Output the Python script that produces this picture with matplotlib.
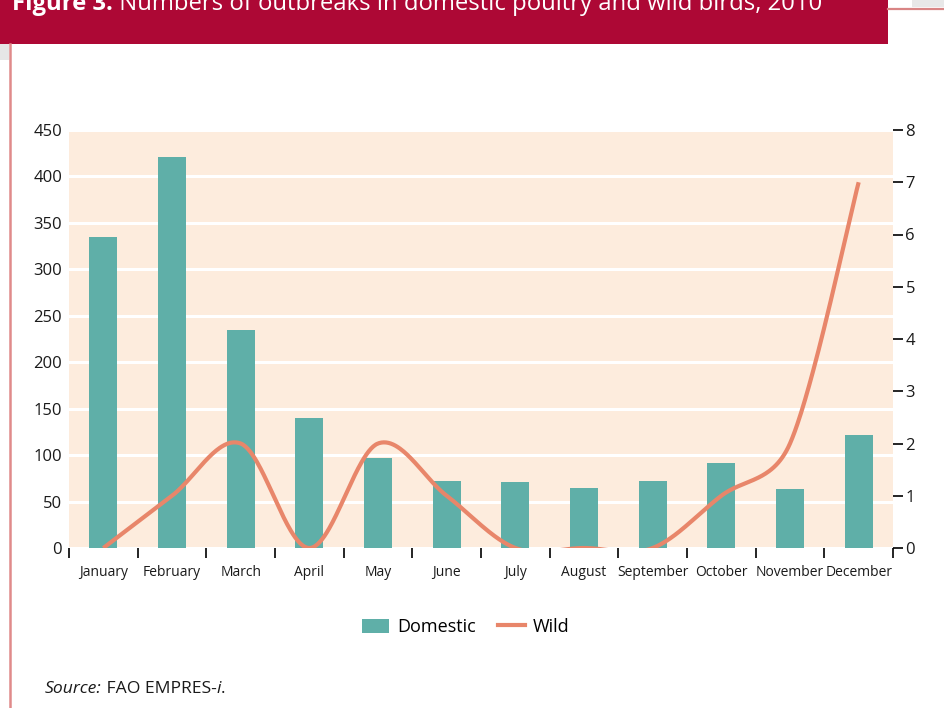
import numpy as np
import matplotlib
matplotlib.use("Agg")
import matplotlib.pyplot as plt
from matplotlib.patches import Rectangle, Patch
from matplotlib.lines import Line2D

months = ["January", "February", "March", "April", "May", "June", "July",
          "August", "September", "October", "November", "December"]
domestic = [335, 421, 235, 140, 97, 72, 71, 65, 72, 91, 63, 122]
wild = [0, 1, 2, 0, 2, 1, 0, 0, 0, 1, 2, 7]
left_ticks = [0, 50, 100, 150, 200, 250, 300, 350, 400, 450]
right_ticks = [0, 1, 2, 3, 4, 5, 6, 7, 8]

FONT = ["Open Sans", "DejaVu Sans"]
plt.rcParams['font.family'] = FONT

W, H = 944, 708
fig = plt.figure(figsize=(W / 100, H / 100), dpi=100)
fig.patch.set_facecolor("white")

def fx(px):
    return px / W

def fy(py):
    return 1 - py / H

# --- decorative frame ---
fig.patches.append(Rectangle((0, fy(44)), fx(888), 1 - fy(44), transform=fig.transFigure,
                             facecolor="#AD0835", edgecolor="none", zorder=0))
fig.patches.append(Rectangle((0, fy(60)), fx(9), fy(44) - fy(60), transform=fig.transFigure,
                             facecolor="#E6E6E6", edgecolor="none", zorder=0))
fig.patches.append(Rectangle((fx(912), fy(7)), fx(32), 1 - fy(7), transform=fig.transFigure,
                             facecolor="#E8E8E8", edgecolor="none", zorder=0))
fig.add_artist(Line2D([fx(888), 1], [fy(8.5), fy(8.5)], transform=fig.transFigure,
                      color="#D98585", lw=1.6))
fig.add_artist(Line2D([fx(10), fx(10)], [fy(44), 0], transform=fig.transFigure,
                      color="#E08A8A", lw=1.8))

# --- axes ---
ax = fig.add_axes([fx(69), fy(548), fx(893) - fx(69), fy(130) - fy(548)])
ax.set_facecolor("#FDECDD")
x = np.arange(len(months))
ax.bar(x, domestic, width=0.41, color="#5FAFA8", zorder=3)
ax.set_xlim(-0.5, len(months) - 0.5)
ax.set_ylim(0, 450)
ax.set_yticks(left_ticks)
ax.yaxis.grid(True, color="white", lw=2.2, zorder=1)
ax.set_axisbelow(True)
for s in ax.spines.values():
    s.set_visible(False)
ax.tick_params(axis="y", length=0, labelsize=12, pad=5, labelcolor="#1a1a1a")
ax.set_xticks(x)
ax.set_xticklabels(months, fontsize=10, color="#1a1a1a")
ax.tick_params(axis="x", which="major", length=0, pad=12)
ax.set_xticks(np.arange(-0.5, len(months)), minor=True)
ax.tick_params(axis="x", which="minor", length=7, width=1.2, color="black", direction="out")

ax2 = ax.twinx()
ax2.set_ylim(0, 8)
ax2.set_yticks(right_ticks)
for s in ax2.spines.values():
    s.set_visible(False)
ax2.tick_params(axis="y", length=7, width=1.2, pad=2, labelsize=12, labelcolor="#1a1a1a")

# wild: Excel-style smoothed line through the data points (computed in display space)
fig.canvas.draw()
P = ax2.transData.transform(np.column_stack([x, np.array(wild, dtype=float)]))
n = len(P)
curve = []
t = np.linspace(0, 1, 60)[:, None]
for i in range(n - 1):
    P0 = P[i - 1] if i > 0 else P[i]
    P1, P2 = P[i], P[i + 1]
    P3 = P[i + 2] if i + 2 < n else P[i + 1]
    d12 = np.linalg.norm(P2 - P1)
    d02 = np.linalg.norm(P2 - P0)
    d13 = np.linalg.norm(P3 - P1)
    f1 = min(1 / 6, d12 / (2 * d02)) if d02 > 0 else 0
    f2 = min(1 / 6, d12 / (2 * d13)) if d13 > 0 else 0
    C1 = P1 + (P2 - P0) * f1
    C2 = P2 - (P3 - P1) * f2
    B = ((1 - t) ** 3) * P1 + 3 * ((1 - t) ** 2) * t * C1 + 3 * (1 - t) * t ** 2 * C2 + t ** 3 * P2
    curve.append(B if i == 0 else B[1:])
curve = np.vstack(curve)
cdata = ax2.transData.inverted().transform(curve)
ax2.plot(cdata[:, 0], cdata[:, 1], color="#E8866A", lw=3, solid_capstyle="butt", zorder=4)

# --- legend ---
handles = [Patch(facecolor="#5FAFA8", edgecolor="none", label="Domestic"),
           Line2D([], [], color="#E8866A", lw=3, label="Wild")]
fig.legend(handles=handles, loc="center", bbox_to_anchor=(fx(466), fy(627)), ncol=2,
           frameon=False, fontsize=13, handlelength=1.5, handleheight=0.8,
           columnspacing=1.2, handletextpad=0.45)

# --- title and source with mixed styles ---
fig.canvas.draw()
r = fig.canvas.get_renderer()

def chain(parts, x0, y0, size, color):
    xx = x0
    for txt, kw in parts:
        tt = fig.text(xx, y0, txt, fontsize=size, color=color, va="baseline",
                      ha="left", family=FONT, **kw)
        bb = tt.get_window_extent(renderer=r)
        xx += bb.width / W

chain([("Figure 3.", dict(weight="bold")),
       (" Numbers of outbreaks in domestic poultry and wild birds, 2010", {})],
      fx(12), fy(9.5), 17.2, "white")
chain([("Source:", dict(style="italic")), (" FAO EMPRES-", {}),
       ("i", dict(style="italic")), (".", {})],
      fx(45), fy(693), 12.6, "#1a1a1a")

fig.savefig("out.png", dpi=100)
